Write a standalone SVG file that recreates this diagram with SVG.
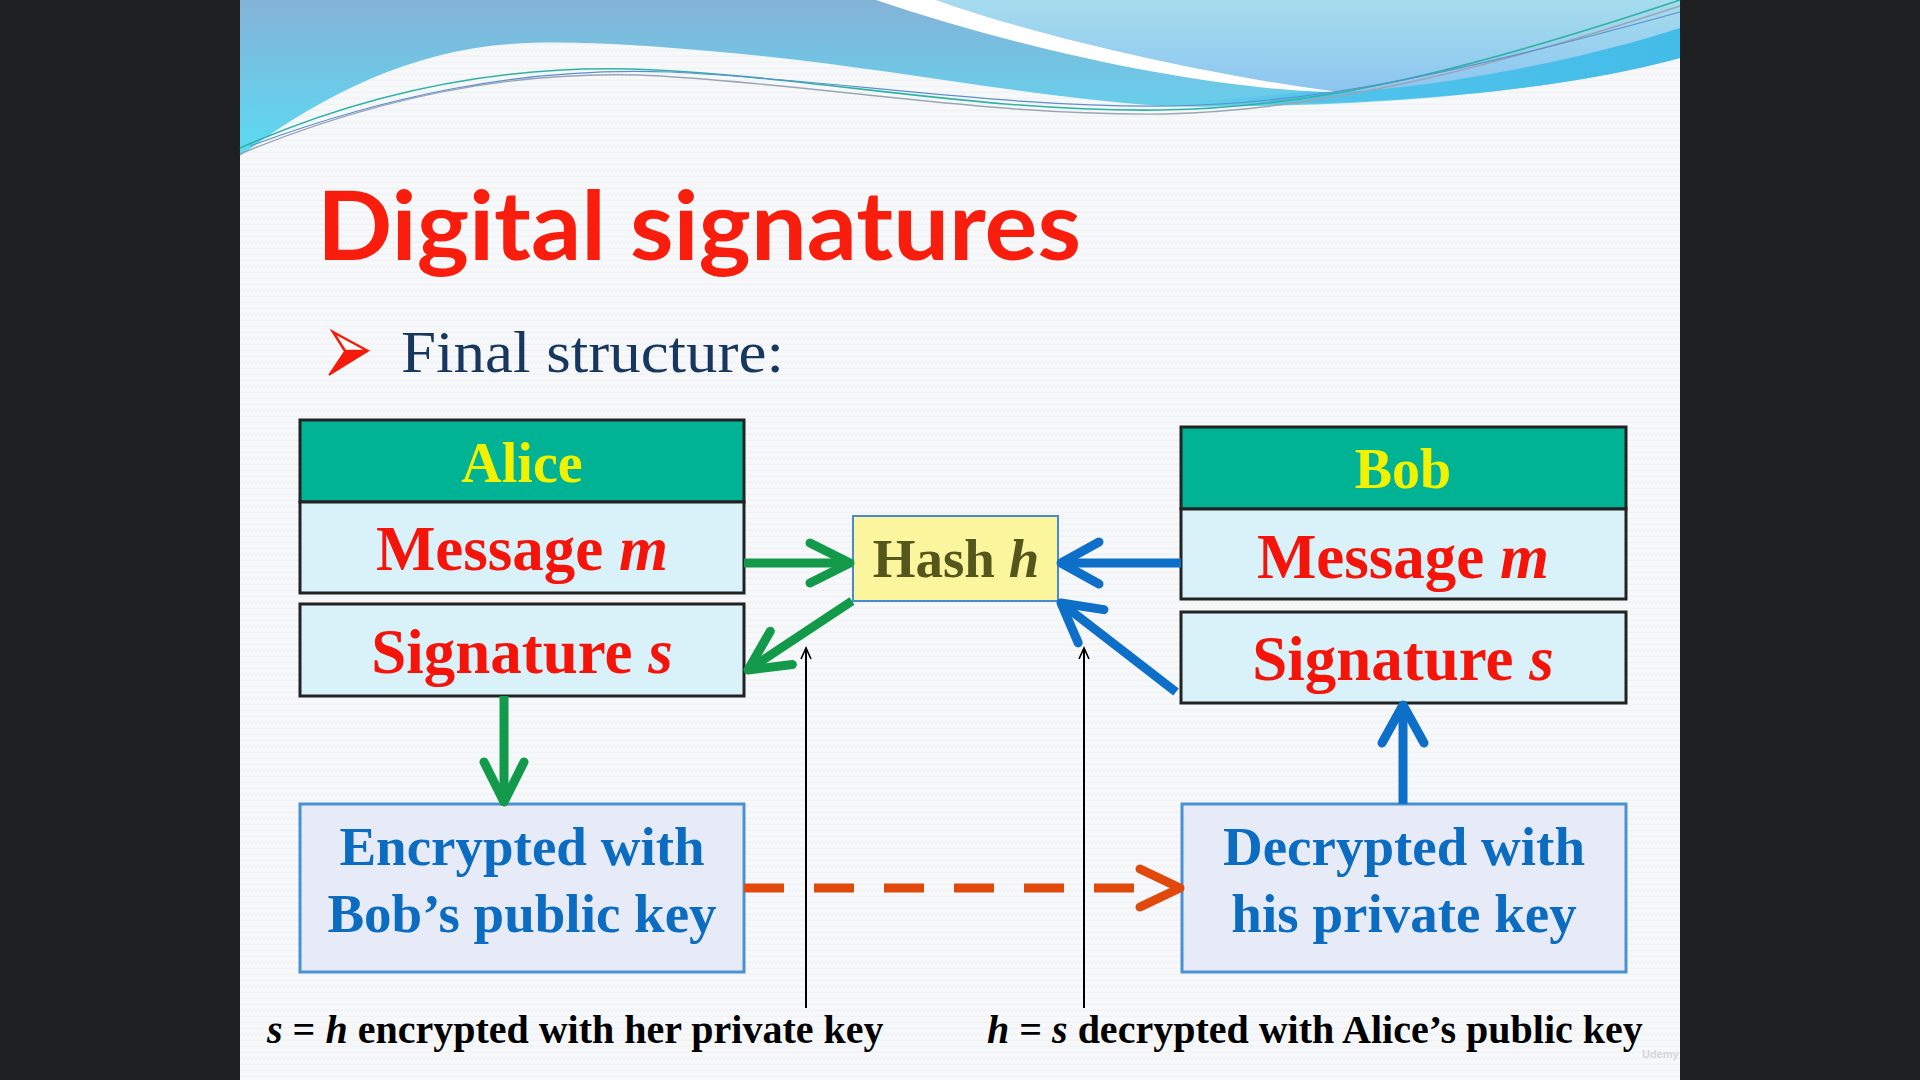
<svg xmlns="http://www.w3.org/2000/svg" width="1920" height="1080" viewBox="0 0 1920 1080">
  <style>
    .serif { font-family: "Liberation Serif", "Times New Roman", serif; font-weight: bold; }
    .hdr { fill: #00b394; stroke: #222; stroke-width: 3; }
    .cell { fill: #d9f1f9; stroke: #222; stroke-width: 3; }
    .keybox { fill: #e7ebf7; stroke: #4a90d2; stroke-width: 3; }
    .name { font-size: 56px; fill: #f2f200; text-anchor: middle; }
    .field { font-size: 63px; fill: #f5140a; text-anchor: middle; }
    .keytxt { font-size: 55px; fill: #0b6cc2; text-anchor: middle; }
    .note { font-size: 40px; fill: #000; }
    .green { stroke: #129a4a; stroke-width: 9; fill: none; }
    .blue { stroke: #0d6fc8; stroke-width: 9; fill: none; }
    .orange { stroke: #e0480c; stroke-width: 9; fill: none; }
    .thin { stroke: #000; stroke-width: 2; fill: none; }
  </style>
  <defs>
    <linearGradient id="skyLeft" gradientUnits="userSpaceOnUse" x1="0" y1="0" x2="0" y2="156">
      <stop offset="0" stop-color="#84b3d8"/>
      <stop offset="1" stop-color="#5adbf3"/>
    </linearGradient>
    <linearGradient id="skyRight" x1="0" y1="0" x2="0" y2="1">
      <stop offset="0" stop-color="#a6dcee"/>
      <stop offset="1" stop-color="#8cc6f0"/>
    </linearGradient>
    <linearGradient id="band" x1="0" y1="0" x2="1" y2="0">
      <stop offset="0" stop-color="#4fc3ec" stop-opacity="0"/>
      <stop offset="0.3" stop-color="#4fc3ec"/>
      <stop offset="1" stop-color="#44bce8"/>
    </linearGradient>
    <pattern id="weave" width="8" height="6" patternUnits="userSpaceOnUse">
      <path d="M0,3 L2,1.5 L4,3 L6,1.5 L8,3" stroke="#eceef1" stroke-width="0.8" fill="none"/>
    </pattern>
    <marker id="headGreen" markerUnits="userSpaceOnUse" markerWidth="60" markerHeight="60" viewBox="-50 -30 60 60" refX="0" refY="0" orient="auto" overflow="visible">
      <path d="M-40,-20 L0,0 L-40,20" stroke="#129a4a" stroke-width="9" fill="none" stroke-linecap="round" stroke-linejoin="round"/>
    </marker>
    <marker id="headBlue" markerUnits="userSpaceOnUse" markerWidth="60" markerHeight="60" viewBox="-50 -30 60 60" refX="0" refY="0" orient="auto" overflow="visible">
      <path d="M-38,-21 L0,0 L-38,21" stroke="#0d6fc8" stroke-width="9" fill="none" stroke-linecap="round" stroke-linejoin="round"/>
    </marker>
    <marker id="headThin" markerUnits="userSpaceOnUse" markerWidth="20" markerHeight="20" viewBox="-15 -10 20 20" refX="0" refY="0" orient="auto" overflow="visible">
      <path d="M-11,-5 L0,0 L-11,5" stroke="#000" stroke-width="1.6" fill="none"/>
    </marker>
  </defs>

  <!-- screen surround and slide -->
  <rect x="0" y="0" width="1920" height="1080" fill="#1e1f21"/>
  <rect x="240" y="0" width="1440" height="1080" fill="#f7f8fa"/>
  <rect x="240" y="0" width="1440" height="1080" fill="url(#weave)"/>

  <!-- top wave decoration -->
  <g id="header-wave">
    <path d="M240,0 H1680 V58 C1580,86 1420,104 1250,106 C1220,107 1190,107 1160,106 C1020,96 880,66 720,52 C640,45 570,40 510,44 C400,52 310,104 240,156 Z" fill="url(#skyLeft)"/>
    <path d="M1180,102 C1330,94 1520,66 1680,26 V58 C1560,90 1400,106 1180,105 Z" fill="url(#band)"/>
    <path d="M936,0 H1680 V28 C1580,60 1440,88 1340,92 C1240,80 1060,44 936,0 Z" fill="url(#skyRight)"/>
    <path d="M876,0 H936 C1060,44 1240,80 1340,92 C1230,92 1040,56 876,0 Z" fill="#ffffff"/>
    <path d="M240,148 C360,95 500,62 655,70 C820,78 980,112 1160,110 C1300,108 1440,80 1680,0" stroke="#2fb3a2" stroke-width="1.6" fill="none"/>
    <path d="M240,154 C370,100 510,68 660,76 C830,86 990,116 1165,114 C1310,110 1460,78 1680,6" stroke="#9aa6b4" stroke-width="1.4" fill="none"/>
    <path d="M250,146 C380,98 520,66 670,72 C840,80 1000,108 1170,106 C1320,104 1470,70 1680,12" stroke="#5b8fcf" stroke-width="1.2" fill="none"/>
  </g>

  <!-- title and bullet -->
  <text x="317" y="260" font-family="Lato, 'Open Sans', sans-serif" font-weight="bold" font-size="95" fill="#f81d0c" textLength="764" lengthAdjust="spacingAndGlyphs">Digital signatures</text>
  <g id="bullet">
    <path d="M333,332 L368,351 L345,351 Z" fill="#ffffff" stroke="#f51a0a" stroke-width="2.5" stroke-linejoin="miter"/>
    <path d="M345,351 L368,351 L329,375 Z" fill="#f51a0a" stroke="#f51a0a" stroke-width="1.5"/>
  </g>
  <text x="401" y="372" font-family="'Liberation Serif', 'Times New Roman', serif" font-size="60" fill="#17375e" textLength="383" lengthAdjust="spacingAndGlyphs">Final structure:</text>

  <!-- Alice -->
  <g id="alice">
    <rect class="hdr" x="300" y="420" width="444" height="82"/>
    <text class="serif name" x="522" y="482">Alice</text>
    <rect class="cell" x="300" y="502" width="444" height="91"/>
    <text class="serif field" x="522" y="570">Message <tspan font-style="italic">m</tspan></text>
  </g>
  <g id="alice-signature">
    <rect class="cell" x="300" y="604" width="444" height="92"/>
    <text class="serif field" x="522" y="673">Signature <tspan font-style="italic">s</tspan></text>
  </g>

  <!-- Hash -->
  <g id="hash">
    <rect x="853" y="516" width="205" height="85" fill="#fbf69e" stroke="#4a8ad0" stroke-width="2"/>
    <text class="serif" x="956" y="577" font-size="55" fill="#55561c" text-anchor="middle">Hash <tspan font-style="italic">h</tspan></text>
  </g>

  <!-- Bob -->
  <g id="bob">
    <rect class="hdr" x="1181" y="427" width="445" height="82"/>
    <text class="serif name" x="1403" y="488">Bob</text>
    <rect class="cell" x="1181" y="509" width="445" height="90"/>
    <text class="serif field" x="1403" y="578">Message <tspan font-style="italic">m</tspan></text>
  </g>
  <g id="bob-signature">
    <rect class="cell" x="1181" y="612" width="445" height="91"/>
    <text class="serif field" x="1403" y="680">Signature <tspan font-style="italic">s</tspan></text>
  </g>

  <!-- key steps -->
  <g id="encrypted">
    <rect class="keybox" x="300" y="804" width="444" height="168"/>
    <text class="serif keytxt" x="522" y="865">Encrypted with</text>
    <text class="serif keytxt" x="522" y="932">Bob’s public key</text>
  </g>
  <g id="decrypted">
    <rect class="keybox" x="1182" y="804" width="444" height="168"/>
    <text class="serif keytxt" x="1404" y="865">Decrypted with</text>
    <text class="serif keytxt" x="1404" y="932">his private key</text>
  </g>

  <!-- connectors -->
  <g id="connectors">
    <path class="green" d="M744,563 H850" marker-end="url(#headGreen)"/>
    <path class="green" d="M852,601 L748,670" marker-end="url(#headGreen)"/>
    <path class="green" d="M504,696 V802" marker-end="url(#headGreen)"/>
    <path class="blue" d="M1181,563 H1061" marker-end="url(#headBlue)"/>
    <path class="blue" d="M1176,692 L1061,603" marker-end="url(#headBlue)"/>
    <path class="blue" d="M1403,804 V705" marker-end="url(#headBlue)"/>
    <path class="orange" d="M744,888 H1134" stroke-dasharray="40 30"/>
    <path class="orange" d="M1140,869 L1180,888 L1140,907" stroke-linecap="round" stroke-linejoin="round"/>
    <path class="thin" d="M806,1008 V648" marker-end="url(#headThin)"/>
    <path class="thin" d="M1084,1008 V648" marker-end="url(#headThin)"/>
  </g>

  <!-- notes -->
  <text class="serif note" x="267" y="1043"><tspan font-style="italic">s</tspan> = <tspan font-style="italic">h</tspan> encrypted with her private key</text>
  <text class="serif note" x="987" y="1043"><tspan font-style="italic">h</tspan> = <tspan font-style="italic">s</tspan> decrypted with Alice’s public key</text>

  <text x="1642" y="1058" font-family="'Liberation Sans', Arial, sans-serif" font-weight="bold" font-size="11" fill="#d4d6da">Udemy</text>
</svg>
